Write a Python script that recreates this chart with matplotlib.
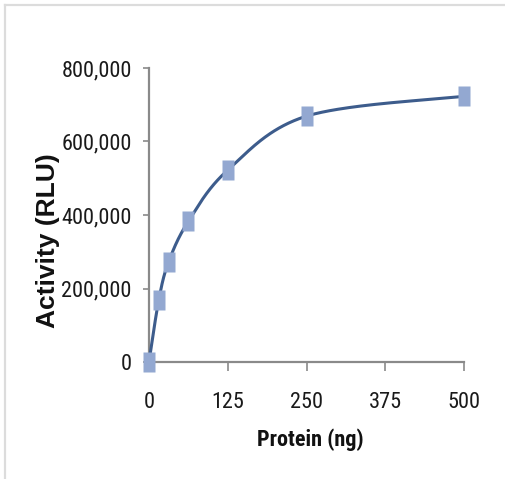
import numpy as np
import matplotlib
matplotlib.use("Agg")
import matplotlib.pyplot as plt
from matplotlib import font_manager
from matplotlib.lines import Line2D

# ---- data ----
protein_ng = [0, 15.625, 31.25, 62.5, 125, 250, 500]
activity_rlu = [0, 170000, 273000, 383000, 522000, 669000, 723000]
x_ticks = [0, 125, 250, 375, 500]
y_ticks = [0, 200000, 400000, 600000, 800000]
x_label = "Protein (ng)"
y_label = "Activity (RLU)"

LINE_COLOR = "#3D5C8C"
MARKER_COLOR = "#93A8D1"
AXIS_COLOR = "#8A8A8A"

installed = {f.name for f in font_manager.fontManager.ttflist}
narrow_font = next((f for f in ["Liberation Sans Narrow", "Arial Narrow", "Roboto Condensed",
                                "Archivo Narrow", "PT Sans Narrow"] if f in installed), "Liberation Sans")
wide_font = "Liberation Sans" if "Liberation Sans" in installed else "DejaVu Sans"


def smooth_curve(xs, ys, n=80):
    """Excel-style smoothed line: Catmull-Rom Bezier segments (tension 1/6)."""
    P = np.column_stack([xs, ys]).astype(float)
    out = []
    s = np.linspace(0, 1, n)[:, None]
    for i in range(len(P) - 1):
        p0 = P[max(i - 1, 0)]
        p1 = P[i]
        p2 = P[i + 1]
        p3 = P[min(i + 2, len(P) - 1)]
        c1 = p1 + (p2 - p0) / 6
        c2 = p2 - (p3 - p1) / 6
        out.append((1 - s) ** 3 * p1 + 3 * (1 - s) ** 2 * s * c1
                   + 3 * (1 - s) * s ** 2 * c2 + s ** 3 * p2)
    out = np.vstack(out)
    return out[:, 0], out[:, 1]


fig = plt.figure(figsize=(5.06, 4.79), dpi=100)
fig.patch.set_facecolor("white")
ax = fig.add_axes([149 / 506, 117 / 479, 315 / 506, 294 / 479])

cx, cy = smooth_curve(protein_ng, activity_rlu)
ax.plot(cx, cy, color=LINE_COLOR, lw=2.2, solid_capstyle="round", zorder=3, clip_on=False)
rect_marker = [(-0.3, -0.5), (0.3, -0.5), (0.3, 0.5), (-0.3, 0.5)]
ax.plot(protein_ng, activity_rlu, lw=0, marker=rect_marker, ms=14.5,
        mfc=MARKER_COLOR, mec="none", clip_on=False, zorder=5)

ax.set_xlim(0, 500)
ax.set_ylim(0, 800000)
ax.set_xticks(x_ticks)
ax.set_xticklabels([str(v) for v in x_ticks])
ax.set_yticks(y_ticks)
ax.set_yticklabels([f"{v:,}" for v in y_ticks])
for lab in ax.get_xticklabels() + ax.get_yticklabels():
    lab.set_family(narrow_font)
    lab.set_fontsize(16)
    lab.set_color("#1a1a1a")

ax.set_xlabel(x_label, family=narrow_font, fontweight="bold", fontsize=16, color="#111111")
ax.xaxis.set_label_coords(0.511, -0.225)
ax.set_ylabel(y_label, family=wide_font, fontweight="bold", fontsize=19, color="#111111")
ax.yaxis.set_label_coords(-0.284, 0.412)

for s in ["top", "right"]:
    ax.spines[s].set_visible(False)
for s in ["left", "bottom"]:
    ax.spines[s].set_color(AXIS_COLOR)
    ax.spines[s].set_linewidth(1.6)
ax.tick_params(axis="x", direction="out", length=6.5, width=1.2, color=AXIS_COLOR, pad=15)
ax.tick_params(axis="y", direction="out", length=4.5, width=1.2, color=AXIS_COLOR, pad=8)

# light grey frame (top and left edges) as in the reference image
fig.add_artist(Line2D([5 / 506, 505 / 506], [1 - 4.5 / 479, 1 - 4.5 / 479],
                      transform=fig.transFigure, color="#DCDCDC", lw=1.6))
fig.add_artist(Line2D([5.5 / 506, 5.5 / 506], [0, 1 - 4.5 / 479],
                      transform=fig.transFigure, color="#DCDCDC", lw=1.6))

fig.savefig("out.png", dpi=100, facecolor="white")
